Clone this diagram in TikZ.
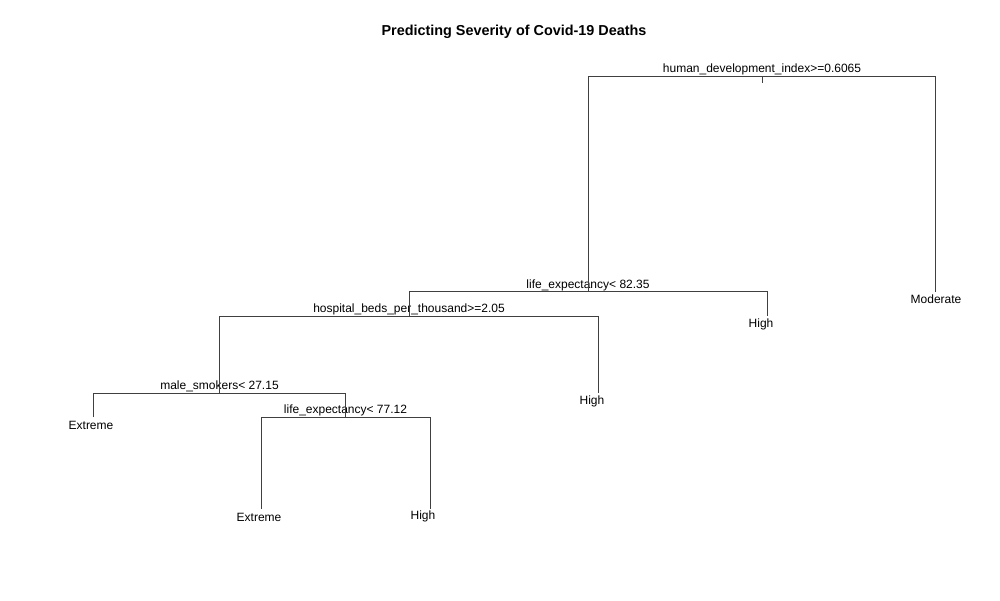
\documentclass[tikz,border=0pt]{standalone}
\usepackage{fontspec}
\setmainfont{Liberation Sans}
\begin{document}
\begin{tikzpicture}[x=1pt,y=-1pt,
  edge/.style={draw=black!75,line width=0.9pt},
  split/.style={anchor=base,inner sep=0pt,font=\fontsize{12}{14}\selectfont},
  leaf/.style={anchor=base,inner sep=0pt,font=\fontsize{12}{14}\selectfont}]
\useasboundingbox[fill=white] (0,0) rectangle (1000,600);
\node[anchor=base,inner sep=0pt,font=\fontsize{14.4}{16}\selectfont\bfseries] (title) at (514,35) {Predicting Severity of Covid-19 Deaths};
% split labels
\node[split] (s1) at (762,72.5) {human\_development\_index>=0.6065};
\node[split] (s2) at (588,288) {life\_expectancy< 82.35};
\node[split] (s3) at (409,312) {hospital\_beds\_per\_thousand>=2.05};
\node[split] (s4) at (219.5,389) {male\_smokers< 27.15};
\node[split] (s5) at (345.5,413) {life\_expectancy< 77.12};
% leaves
\node[leaf] (l1) at (936,303.5) {Moderate};
\node[leaf] (l2) at (761,327) {High};
\node[leaf] (l3) at (592,404) {High};
\node[leaf] (l4) at (91,429) {Extreme};
\node[leaf] (l5) at (259,521) {Extreme};
\node[leaf] (l6) at (423,519) {High};
% coordinates
\coordinate (r) at (762,76);
\coordinate (rt) at (762,83);
\coordinate (rL) at (588,76);
\coordinate (rR) at (935,76);
\coordinate (n2) at (588,291);
\coordinate (n2L) at (409,291);
\coordinate (n2R) at (767,291);
\coordinate (n3) at (409,316);
\coordinate (n3L) at (219,316);
\coordinate (n3R) at (598,316);
\coordinate (n4) at (219,393);
\coordinate (n4L) at (93,393);
\coordinate (n4R) at (345,393);
\coordinate (n5) at (345,417);
\coordinate (n5L) at (261,417);
\coordinate (n5R) at (430,417);
\coordinate (e1) at (935,292);
\coordinate (e2) at (767,316);
\coordinate (e3) at (598,393);
\coordinate (e4) at (93,417);
\coordinate (e5) at (261,509);
\coordinate (e6) at (430,509);
% edges
\draw[edge] (r) -- (rt);
\draw[edge] (n2) -- (rL) -- (rR) -- (e1);
\draw[edge] (n3) -- (n2L) -- (n2R) -- (e2);
\draw[edge] (n4) -- (n3L) -- (n3R) -- (e3);
\draw[edge] (e4) -- (n4L) -- (n4R) -- (n5);
\draw[edge] (e5) -- (n5L) -- (n5R) -- (e6);
\draw[edge] (n2) -- (n2 |- n2L);
\draw[edge] (n3L |- n3) -- (n3L |- n4);
\end{tikzpicture}
\end{document}
